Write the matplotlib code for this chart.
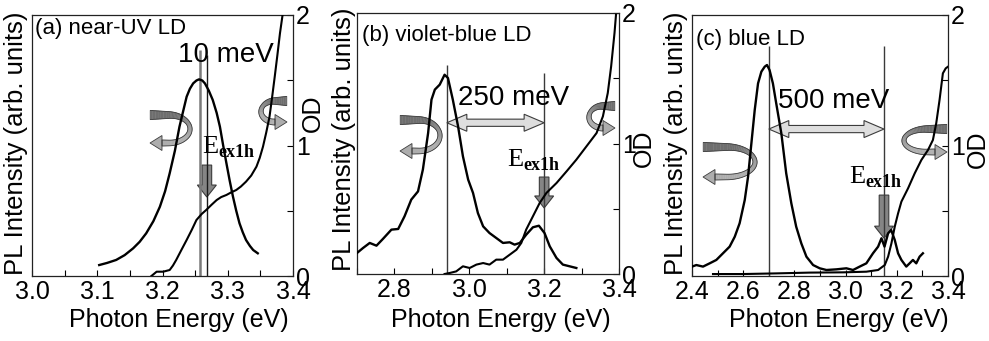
import numpy as np
import matplotlib
matplotlib.use("Agg")
import matplotlib.pyplot as plt
from matplotlib.patches import Polygon
from matplotlib.transforms import IdentityTransform
from matplotlib.ticker import MultipleLocator, FixedLocator

# ---------------- data ----------------
# (a) near-UV LD
pl_a_x = [3.103, 3.115, 3.129, 3.142, 3.155, 3.165, 3.175, 3.186, 3.196, 3.204, 3.211, 3.219,
          3.226, 3.232, 3.237, 3.242, 3.247, 3.252, 3.256, 3.261, 3.265, 3.271, 3.277, 3.283,
          3.288, 3.293, 3.298, 3.303, 3.308, 3.313, 3.318, 3.323, 3.328, 3.334, 3.339, 3.346]
pl_a_y = [0.084, 0.100, 0.123, 0.160, 0.212, 0.262, 0.327, 0.420, 0.531, 0.650, 0.787, 0.960,
          1.144, 1.270, 1.374, 1.435, 1.476, 1.498, 1.507, 1.498, 1.476, 1.420, 1.349, 1.250,
          1.144, 1.000, 0.863, 0.730, 0.608, 0.500, 0.404, 0.335, 0.276, 0.230, 0.199, 0.174]
od_a_x = [3.183, 3.191, 3.201, 3.211, 3.216, 3.221, 3.229, 3.237, 3.245, 3.252, 3.260, 3.267,
          3.275, 3.283, 3.290, 3.298, 3.305, 3.313, 3.320, 3.328, 3.336, 3.344, 3.349, 3.354,
          3.359, 3.364, 3.368, 3.372, 3.376, 3.380, 3.384]
od_a_y = [0.000, 0.033, 0.033, 0.046, 0.080, 0.123, 0.200, 0.276, 0.355, 0.429, 0.475, 0.506,
          0.545, 0.582, 0.605, 0.621, 0.640, 0.659, 0.685, 0.723, 0.770, 0.838, 0.905, 0.991,
          1.100, 1.221, 1.370, 1.527, 1.690, 1.859, 2.000]

# (b) violet-blue LD
pl_b_x = [2.700, 2.716, 2.734, 2.752, 2.769, 2.792, 2.810, 2.827, 2.845, 2.863, 2.876, 2.890,
          2.899, 2.908, 2.921, 2.934, 2.943, 2.956, 2.970, 2.983, 2.997, 3.010, 3.023, 3.037,
          3.054, 3.072, 3.090, 3.108, 3.121, 3.135, 3.152, 3.170, 3.186, 3.201, 3.215, 3.233,
          3.250, 3.286]
pl_b_y = [0.161, 0.199, 0.238, 0.217, 0.268, 0.340, 0.345, 0.442, 0.570, 0.633, 0.800, 1.080,
          1.336, 1.413, 1.451, 1.527, 1.502, 1.336, 1.132, 0.902, 0.723, 0.621, 0.467, 0.365,
          0.314, 0.276, 0.238, 0.243, 0.225, 0.238, 0.301, 0.358, 0.370, 0.314, 0.212, 0.123,
          0.072, 0.046]
od_b_x = [2.934, 2.948, 2.965, 2.983, 3.001, 3.019, 3.037, 3.054, 3.072, 3.090, 3.108, 3.126,
          3.139, 3.152, 3.170, 3.188, 3.206, 3.233, 3.260, 3.286, 3.313, 3.340, 3.357, 3.370,
          3.379, 3.388, 3.392]
od_b_y = [0.000, 0.008, 0.020, 0.059, 0.046, 0.072, 0.084, 0.072, 0.110, 0.110, 0.148, 0.186,
          0.238, 0.340, 0.442, 0.544, 0.621, 0.697, 0.787, 0.876, 0.978, 1.080, 1.208, 1.387,
          1.591, 1.847, 1.987]

# (c) blue LD
pl_c_x = [2.400, 2.417, 2.443, 2.469, 2.495, 2.521, 2.547, 2.567, 2.586, 2.606, 2.619, 2.632,
          2.645, 2.658, 2.671, 2.684, 2.693, 2.703, 2.716, 2.729, 2.749, 2.768, 2.788, 2.807,
          2.827, 2.847, 2.873, 2.899, 2.925, 2.964, 3.003, 3.029, 3.055, 3.081, 3.107, 3.127,
          3.140, 3.152, 3.166, 3.178, 3.192, 3.205, 3.218, 3.237, 3.250, 3.263, 3.276, 3.289,
          3.302]
pl_c_y = [0.072, 0.084, 0.072, 0.097, 0.123, 0.174, 0.225, 0.301, 0.404, 0.582, 0.761, 1.017,
          1.272, 1.476, 1.566, 1.604, 1.617, 1.578, 1.476, 1.323, 1.093, 0.787, 0.557, 0.378,
          0.250, 0.148, 0.084, 0.059, 0.046, 0.051, 0.059, 0.046, 0.072, 0.097, 0.174, 0.225,
          0.289, 0.225, 0.327, 0.352, 0.276, 0.174, 0.123, 0.072, 0.097, 0.123, 0.097, 0.148,
          0.174]
od_c_x = [2.482, 2.599, 2.729, 2.860, 2.990, 3.081, 3.127, 3.153, 3.166, 3.179, 3.192, 3.205,
          3.218, 3.244, 3.270, 3.296, 3.322, 3.341, 3.354, 3.367, 3.380, 3.391, 3.400]
od_c_y = [0.015, 0.015, 0.020, 0.026, 0.028, 0.033, 0.046, 0.084, 0.148, 0.250, 0.378, 0.480,
          0.570, 0.672, 0.787, 0.889, 0.966, 1.042, 1.170, 1.349, 1.553, 1.591, 1.604]

titles = ["(a) near-UV LD", "(b) violet-blue LD", "(c) blue LD"]
shift_labels = ["10 meV", "250 meV", "500 meV"]
pl_peak = [3.258, 2.94, 2.70]      # PL peak energy (eV)
e_ex1h = [3.268, 3.20, 3.15]       # exciton absorption edge (eV)
x_limits = [(3.0, 3.4), (2.7, 3.4), (2.4, 3.4)]
x_major = [[3.0, 3.1, 3.2, 3.3, 3.4], [2.8, 3.0, 3.2, 3.4], [2.4, 2.6, 2.8, 3.0, 3.2, 3.4]]
x_minor = [0.05, 0.1, 0.1]
x_ticklabels = [["3.0", "3.1", "3.2", "3.3", "3.4"], ["2.8", "3.0", "3.2", "3.4"],
                ["2.4", "2.6", "2.8", "3.0", "3.2", "3.4"]]
od_ticks = [0, 0.5, 1, 1.5, 2]
od_ticklabels = ["0", "", "1", "", "2"]

# ---------------- style ----------------
plt.rcParams["font.family"] = ["Liberation Sans", "DejaVu Sans"]

W, H, DPI = 989, 341, 100
fig = plt.figure(figsize=(W / DPI, H / DPI), dpi=DPI)

# axes boxes in pixels: left, top, width, height
boxes = [(32, 15, 261, 261), (357, 13, 262, 261), (692, 15, 256, 261)]
axes = []
for (l, t, w, h) in boxes:
    axes.append(fig.add_axes([l / W, (H - t - h) / H, w / W, h / H]))

EDGE = "#3c3c3c"


def to_disp(px, py):
    """pixel position (y measured from the top) -> display coordinates"""
    return np.column_stack([np.asarray(px, float), H - np.asarray(py, float)])


def ribbon_arrow(ax, x_tip, x_out, y_top, y_bot, w_top=4.6, w_mid=2.0, w_bot=3.0,
                 head_w=7.5, head_l=12.0):
    """Curled ribbon arrow; the tip is on the same side where the ribbon starts."""
    s = 1.0 if x_out > x_tip else -1.0          # side of the curl
    span = abs(x_out - x_tip)
    ym = 0.5 * (y_top + y_bot)
    ry = 0.5 * (y_bot - y_top)
    xc = x_tip + s * 0.45 * span
    rx = abs(x_out - xc) - w_mid
    base = x_tip + s * head_l
    top = np.column_stack([np.linspace(x_tip, xc, 8), np.full(8, y_top)])
    t = np.linspace(-np.pi / 2, np.pi / 2, 48)
    arc = np.column_stack([xc + s * rx * np.cos(t), ym + ry * np.sin(t)])
    bot = np.column_stack([np.linspace(xc, base, 8), np.full(8, y_bot)])
    c = np.vstack([top, arc[1:], bot[1:]])
    d = np.gradient(c, axis=0)
    d /= np.hypot(d[:, 0], d[:, 1])[:, None]
    nrm = np.column_stack([-d[:, 1], d[:, 0]])
    seg = np.r_[0, np.cumsum(np.hypot(*np.diff(c, axis=0).T))]
    u = seg / seg[-1]
    hw = np.interp(u, [0, 0.5, 1], [w_top, w_mid, w_bot])
    p1 = c + nrm * hw[:, None]
    p2 = c - nrm * hw[:, None]
    dark = np.array([0.43, 0.43, 0.43])
    light = np.array([0.68, 0.68, 0.68])
    for i in range(len(c) - 1):
        uu = min(1.0, max(0.0, (u[i] - 0.3) / 0.4))
        col = dark + (light - dark) * uu
        quad = np.vstack([p1[i], p1[i + 1], p2[i + 1], p2[i]])
        ax.add_patch(Polygon(to_disp(quad[:, 0], quad[:, 1]), closed=True, facecolor=col,
                             edgecolor=col, lw=0.3, transform=IdentityTransform(), zorder=1.5))
    head = np.array([[base, y_bot - head_w], [x_tip, y_bot], [base, y_bot + head_w]])
    ax.add_patch(Polygon(to_disp(head[:, 0], head[:, 1]), closed=True, facecolor=light,
                         edgecolor=EDGE, lw=0.6, transform=IdentityTransform(), zorder=1.6))
    outline = np.vstack([p1, p2[::-1], p1[:1]])
    ax.add_patch(Polygon(to_disp(outline[:, 0], outline[:, 1]), closed=False, fill=False,
                         edgecolor=EDGE, lw=0.6, transform=IdentityTransform(), zorder=1.6))


def double_arrow(ax, x0, x1, y, shaft=3.6, head_w=8.5, head_l=20.0):
    (a, yy), (b, _) = ax.transData.transform([(x0, y), (x1, y)])
    pts = np.array([[a, yy], [a + head_l, yy + head_w], [a + head_l, yy + shaft],
                    [b - head_l, yy + shaft], [b - head_l, yy + head_w], [b, yy],
                    [b - head_l, yy - head_w], [b - head_l, yy - shaft],
                    [a + head_l, yy - shaft], [a + head_l, yy - head_w]])
    ax.add_patch(Polygon(pts, closed=True, facecolor="#dedede", edgecolor=EDGE, lw=0.8,
                         transform=IdentityTransform(), zorder=1.7))


def down_arrow(ax, x, y0, y1, shaft=4.8, head_w=9.5, head_l=12.0):
    (xx, a), (_, b) = ax.transData.transform([(x, y0), (x, y1)])
    pts = np.array([[xx - shaft, a], [xx + shaft, a], [xx + shaft, b + head_l],
                    [xx + head_w, b + head_l], [xx, b], [xx - head_w, b + head_l],
                    [xx - shaft, b + head_l]])
    ax.add_patch(Polygon(pts, closed=True, facecolor="#858585", edgecolor=EDGE, lw=0.8,
                         transform=IdentityTransform(), zorder=1.7))


pl_x = [pl_a_x, pl_b_x, pl_c_x]
pl_y = [pl_a_y, pl_b_y, pl_c_y]
od_x = [od_a_x, od_b_x, od_c_x]
od_y = [od_a_y, od_b_y, od_c_y]

# per-panel text/annotation layout
title_pos = [(0.011, 0.99), (0.02, 0.955), (0.016, 0.945)]
ylab_pos = [(-0.061, 0.508), (-0.05, 0.515), (-0.0625, 0.508)]
od_lab_pos = [(1.078, 0.625), (1.095, 0.483), (1.117, 0.487)]
xlab_pos = [(0.561, -0.195), (0.548, -0.203), (0.572, -0.195)]
shift_pos = [(3.297, 1.64), (3.118, 1.295), (2.955, 1.287)]
e_pos = [(3.2605, 0.943), (3.101, 0.828), (3.013, 0.713)]
vline_top = [(1.73, 1.69), (1.60, 1.54), (1.76, 1.76)]
darrow_y = [None, 1.159, 1.126]
downarrow_y = [(0.85, 0.605), (0.743, 0.506), (0.62, 0.29)]
ribbons = [
    [(150, 192, 115, 143), (287, 259, 101, 122)],
    [(400, 442, 120, 151), (615, 587, 106, 128)],
    [(703, 757, 147, 177), (947, 902, 129, 152)],
]

for i, ax in enumerate(axes):
    ax.set_xlim(*x_limits[i])
    ax.set_ylim(0, 2)
    ax.plot(pl_x[i], pl_y[i], color="black", lw=1.7, zorder=3, solid_joinstyle="round")
    ax.plot(od_x[i], od_y[i], color="black", lw=1.5, zorder=3, solid_joinstyle="round")

    # vertical markers
    if i == 0:
        ax.vlines(pl_peak[i], 0, vline_top[i][0], color="#7a7a7a", lw=1.8, zorder=2)
        ax.vlines(e_ex1h[i], 0, vline_top[i][1], color="#1a1a1a", lw=1.0, zorder=2)
    else:
        ax.vlines(pl_peak[i], 0, vline_top[i][0], color="#3a3a3a", lw=1.0, zorder=2)
        ax.vlines(e_ex1h[i], 0, vline_top[i][1], color="#3a3a3a", lw=1.0, zorder=2)

    # ticks
    ax.xaxis.set_major_locator(FixedLocator(x_major[i]))
    ax.xaxis.set_minor_locator(MultipleLocator(x_minor[i]))
    ax.set_xticklabels(x_ticklabels[i])
    ax.yaxis.set_major_locator(FixedLocator(od_ticks))
    ax.set_yticklabels(od_ticklabels)
    ax.tick_params(axis="x", which="both", direction="in", length=4, width=0.8,
                   top=False, bottom=True, labelsize=18, pad=3)
    ax.tick_params(axis="y", which="both", direction="in", length=4, width=0.8,
                   left=False, right=True, labelleft=False, labelright=True,
                   labelsize=18, pad=2)
    for sp in ax.spines.values():
        sp.set_linewidth(0.9)
        sp.set_color("#222222")

    # labels
    ax.text(*title_pos[i], titles[i], transform=ax.transAxes, ha="left", va="top", fontsize=16)
    ax.text(*ylab_pos[i], "PL Intensity (arb. units)", transform=ax.transAxes, rotation=90,
            ha="center", va="center", fontsize=18.5)
    ax.text(*od_lab_pos[i], "OD", transform=ax.transAxes, rotation=90,
            ha="center", va="center", fontsize=18)
    ax.text(*xlab_pos[i], "Photon Energy (eV)", transform=ax.transAxes,
            ha="center", va="baseline", fontsize=18)
    ax.text(*shift_pos[i], shift_labels[i], ha="center", va="baseline", fontsize=20, zorder=4)
    ax.text(*e_pos[i], "E", ha="left", va="baseline", fontsize=19,
            family="Liberation Serif", zorder=4)
    ax.annotate("ex1h", xy=e_pos[i], xytext=(12.0, -2.9), textcoords="offset points",
                ha="left", va="baseline", fontsize=13, fontweight="bold",
                family="Liberation Serif", zorder=4)

    # arrows
    if darrow_y[i] is not None:
        double_arrow(ax, pl_peak[i], e_ex1h[i], darrow_y[i])
    down_arrow(ax, e_ex1h[i], *downarrow_y[i])
    for r in ribbons[i]:
        ribbon_arrow(ax, *r)

fig.savefig("out.png", dpi=DPI)
